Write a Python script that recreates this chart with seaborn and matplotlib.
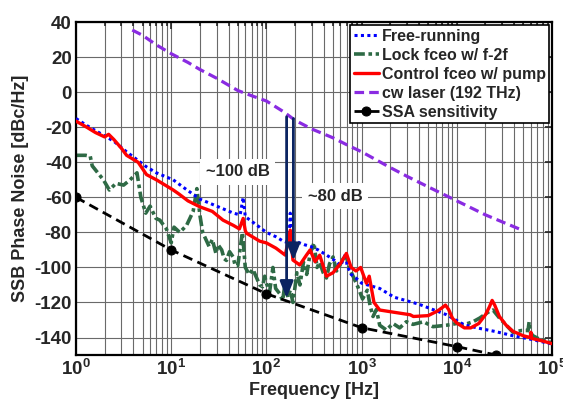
import numpy as np
import pandas as pd
import matplotlib
matplotlib.use('Agg')
import matplotlib.pyplot as plt
import matplotlib.ticker as mticker
import seaborn as sns

# free-running (blue dotted)
free_f = [1, 1.3, 1.8, 2.5, 3.4, 4.5, 5.5, 7, 10.5, 14, 20, 30, 45, 53, 57, 60, 80, 100,
          126, 150, 172, 178, 185, 200, 250, 290, 350, 430, 520, 603, 680, 700, 720, 776,
          870, 1000, 1550, 2200, 3200, 4000, 5000, 7800, 12000, 17000, 25000, 39000, 60000, 100000]
free_db = [-15, -19, -23.5, -28, -34, -39, -42.6, -46, -50, -55, -61, -65, -69, -70, -60, -71, -76, -80,
           -82.5, -85, -86, -69, -86, -85, -87, -88, -90, -93, -96, -99, -92, -98, -100, -104,
           -106, -109, -112, -117, -119.5, -121, -123, -127, -132.8, -134.7, -136.5, -139, -141, -143.7]

# lock fceo w/ f-2f (green dash-dot)
lock_f = [1, 1.26, 1.41, 1.48, 1.94, 2.24, 2.63, 3.16, 3.7, 4.37, 4.8, 5.4, 6.0, 6.9, 7.6, 8.9,
          10, 10.7, 12.3, 14.5, 17, 18.6, 20, 21.4, 25, 27, 29.5, 31, 33.9, 36, 38, 41, 44.7, 47,
          50, 56, 60, 66, 72, 79, 85, 91, 96, 100, 108, 117, 125, 138, 148, 158, 168, 178, 190,
          209, 225, 245, 265, 288, 316, 340, 363, 395, 427, 460, 501, 545, 589, 640, 692, 750,
          813, 912, 1023, 1148, 1230, 1318, 1430, 1549, 1820, 2138, 2512, 2951, 3467, 4467, 5623,
          7762, 10000, 11750, 14790, 17380, 21380, 24000, 28180, 38900, 47860, 56000, 57500,
          59000, 63100, 74130, 100000]
lock_db = [-36, -36, -36.5, -42, -50, -55.8, -52, -53, -50, -46, -60, -69, -65, -72, -73, -78,
           -86, -77, -80, -76, -68, -55, -70, -80, -88, -84, -92, -87, -90, -95, -96, -91, -94, -99,
           -99, -80, -100, -104, -101, -106, -110, -111, -105, -109, -114, -100, -112, -115, -119, -108, -117, -113, -120,
           -103, -110, -97, -104, -92, -86, -100, -97, -103, -106, -98, -94, -102, -99, -95, -94, -101,
           -105, -111, -118, -113, -122, -128, -124, -133, -135.7, -132, -134.5, -131, -132.5, -131, -133.8,
           -133, -132, -132.8, -131, -128.9, -125.5, -124.3, -129, -137, -136, -136, -131,
           -137, -139, -141, -143]

# control fceo w/ pump (red solid)
ctrl_f = [1, 1.3, 1.6, 2.0, 2.2, 2.5, 3.0, 3.4, 4.5, 5.5, 7, 10.5, 12, 15, 20, 27, 35, 45, 52, 57,
          60, 62, 85, 100, 126, 158, 178, 190, 224, 263, 288, 324, 363, 427, 501, 603, 692, 776,
          871, 977, 1122, 1202, 1349, 1549, 2138, 3236, 3500, 5000, 6200, 7000, 7600, 8200, 9000,
          10000, 12000, 14000, 17000, 20000, 22000, 23500, 25000, 28000, 33000, 39000, 50000,
          59000, 60000, 61000, 80000, 100000]
ctrl_db = [-16.5, -20, -23, -25.5, -24, -27, -32, -36, -40, -47, -50, -55.8, -58, -62, -65.4, -68, -73, -76, -78, -72,
           -79, -80.5, -85, -86, -89, -93, -78.7, -95.8, -98.6, -93, -90, -96.7, -93, -105, -103, -97.6, -92, -100,
           -102, -100, -109, -105, -120, -124.3, -125.5, -127, -128, -127.5, -125, -123, -121.5, -124, -129,
           -131.7, -134.5, -134.5, -132, -127, -122.5, -118.8, -121.5, -128, -133, -136.5, -139,
           -140, -137, -140.5, -142, -143.5]

# cw laser (192 THz) (purple dashed)
cw_f = [3.9, 5, 7, 10, 15, 20, 30, 50, 70, 100, 150, 200, 300, 500, 700, 1000, 2000, 3000,
        5000, 10000, 20000, 30000, 50000]
cw_db = [35.5, 32.5, 27, 22, 17, 13, 8, 1, -2, -5, -11, -16, -21, -26, -30, -34, -43, -48,
         -54, -62, -70, -74, -79]

# SSA sensitivity (black dashed with markers)
ssa_f = [1, 10, 100, 1000, 10000, 26000]
ssa_db = [-60, -90, -115, -134.4, -145.2, -150]

yticks = [-140, -120, -100, -80, -60, -40, -20, 0, 20, 40]
xticks = [1, 10, 100, 1000, 10000, 100000]
xtick_labels = [r'$\mathbf{10^{%d}}$' % i for i in range(6)]

sns.set_style('white')
plt.rcParams['font.family'] = ['Liberation Sans', 'DejaVu Sans']
plt.rcParams['font.weight'] = 'bold'
plt.rcParams['mathtext.fontset'] = 'custom'
plt.rcParams['mathtext.rm'] = 'Liberation Sans:bold'
plt.rcParams['mathtext.bf'] = 'Liberation Sans:bold'

fig = plt.figure(figsize=(5.63, 4.03), dpi=100)
ax = fig.add_axes([0.135, 0.119, 0.8455, 0.826])

sns.lineplot(x=free_f, y=free_db, ax=ax, color='#0000ff', lw=2.2, linestyle=(0, (1, 1.1)),
             label='Free-running', estimator=None, zorder=3)
sns.lineplot(x=lock_f, y=lock_db, ax=ax, color='#2e6a45', lw=2.6, linestyle=(0, (3, 1, 1, 1)),
             label='Lock fceo w/ f-2f', estimator=None, zorder=2)
sns.lineplot(x=ctrl_f, y=ctrl_db, ax=ax, color='#ff0000', lw=2.4, linestyle='-',
             label='Control fceo w/ pump', estimator=None, zorder=4)
sns.lineplot(x=cw_f, y=cw_db, ax=ax, color='#8a2be2', lw=2.3, linestyle=(0, (3, 1.6)),
             label='cw laser (192 THz)', estimator=None, zorder=3)
sns.lineplot(x=ssa_f, y=ssa_db, ax=ax, color='black', lw=2.0, linestyle=(0, (3.5, 2)),
             marker='o', markersize=6.5, markeredgecolor='black',
             label='SSA sensitivity', estimator=None, zorder=5)

ax.set_xscale('log')
ax.set_xlim(1, 1e5)
ax.set_ylim(-150, 40)
ax.set_xticks(xticks)
ax.set_xticklabels(xtick_labels)
ax.xaxis.set_minor_locator(mticker.LogLocator(base=10, subs=np.arange(2, 10), numticks=20))
ax.xaxis.set_minor_formatter(mticker.NullFormatter())
ax.set_yticks(yticks)
ax.set_yticklabels([str(v) for v in yticks])

ax.grid(True, which='major', axis='both', color='#6a6a6a', lw=0.8)
ax.grid(True, which='minor', axis='x', color='#6a6a6a', lw=0.8)
ax.set_axisbelow(True)

ax.tick_params(axis='both', which='both', direction='in', top=True, right=True,
               labelsize=13.5, pad=3, width=1.2)
ax.tick_params(which='major', length=5)
ax.tick_params(which='minor', length=3)
for sp in ax.spines.values():
    sp.set_linewidth(1.6)
    sp.set_color('black')

ax.set_xlabel('Frequency [Hz]', fontsize=13, fontweight='bold', labelpad=2)
ax.set_ylabel('SSB Phase Noise [dBc/Hz]', fontsize=13, fontweight='bold', labelpad=4)

# arrows
arrow_kw = dict(arrowstyle='-|>,head_length=1.0,head_width=0.4', color='#0b2461', lw=2.0,
                mutation_scale=10, shrinkA=0, shrinkB=0)
ax.annotate('', xy=(163, -117.5), xytext=(163, -14), arrowprops=arrow_kw, zorder=6)
ax.annotate('', xy=(192, -96), xytext=(192, -15), arrowprops=arrow_kw, zorder=6)

box = dict(facecolor='white', edgecolor='none', pad=4)
ax.text(50, -45.5, '~100 dB', fontsize=12, fontweight='bold', ha='center', va='center',
        bbox=box, zorder=1.5)
ax.text(530, -59.5, '~80 dB', fontsize=12, fontweight='bold', ha='center', va='center',
        bbox=box, zorder=1.5)

leg = ax.legend(loc='upper right', fontsize=11.5, frameon=True, fancybox=False, framealpha=1,
                edgecolor='black', borderaxespad=0.2, borderpad=0.2, handlelength=1.6,
                handletextpad=0.15, labelspacing=0.25)
leg.get_frame().set_linewidth(1.2)

fig.savefig('out.png', dpi=100)
